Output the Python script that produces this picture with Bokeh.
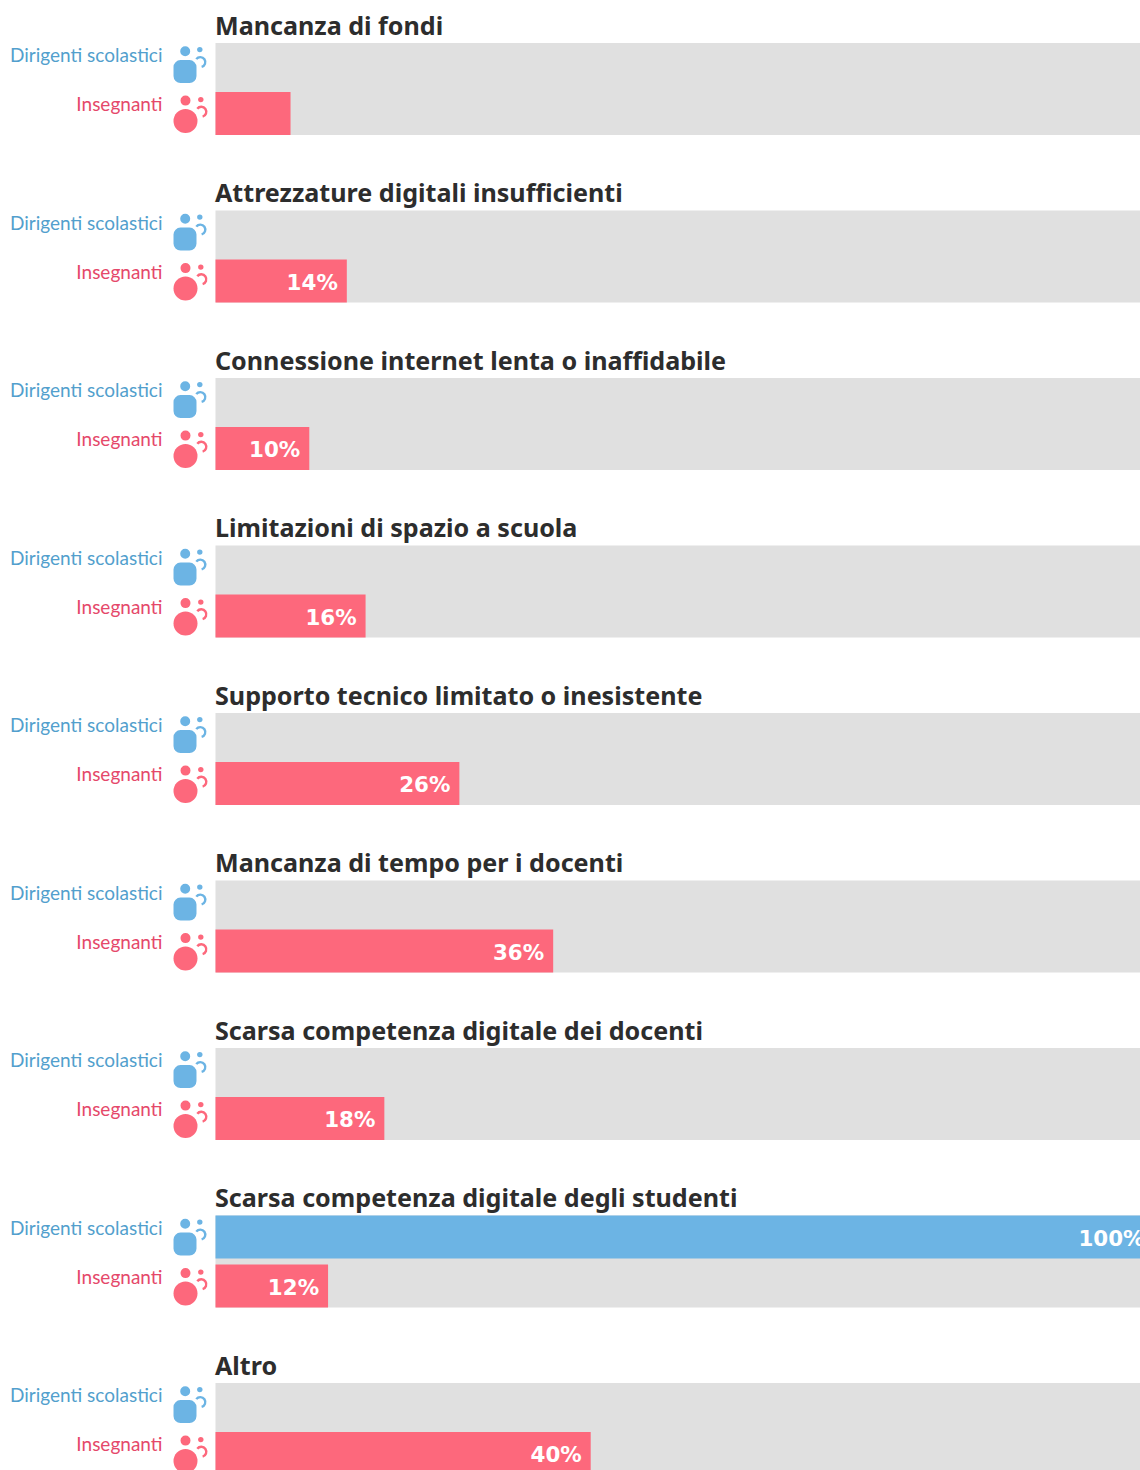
from bokeh.plotting import figure
from bokeh.models import Range1d
from bokeh.core.properties import value
from bokeh.embed import file_html
from bokeh.resources import INLINE

categories = ["Mancanza di fondi", "Attrezzature digitali insufficienti",
              "Connessione internet lenta o inaffidabile", "Limitazioni di spazio a scuola",
              "Supporto tecnico limitato o inesistente", "Mancanza di tempo per i docenti",
              "Scarsa competenza digitale dei docenti", "Scarsa competenza digitale degli studenti",
              "Altro"]
dirigenti = [0, 0, 0, 0, 0, 0, 0, 100, 0]
insegnanti = [8, 14, 10, 16, 26, 36, 18, 12, 40]
series_names = ["Dirigenti scolastici", "Insegnanti"]

W, H = 1140, 1470
S = 9.38      # px per percent
P = 167.5     # px per row
X0, Y0 = 215, 42.6
BAR = 43 / P
GAP = 49 / P
GREY, BLUE, RED = "#e0e0e0", "#6cb4e4", "#fd687c"
BLUE_T, RED_T, DARK = "#529fcd", "#e5486a", "#2d2d2d"
TITLE_FONT, LABEL_FONT, VALUE_FONT = "Noto Sans", "Lato", "DejaVu Sans"

p = figure(width=W, height=H, output_backend="svg", toolbar_location=None,
           x_range=Range1d(-X0 / S, (W - X0) / S),
           y_range=Range1d((H - Y0) / P, -Y0 / P),
           min_border=0, outline_line_color=None, margin=0)
p.axis.visible = False
p.grid.visible = False
p.extra_x_ranges["px"] = Range1d(0, W)
p.extra_y_ranges["px"] = Range1d(H, 0)

n = len(categories)
rows = list(range(n))
xmax = (W - X0) / S

p.quad(left=[0] * n, right=[xmax] * n, top=rows, bottom=[i + BAR + GAP for i in rows],
       color=GREY, line_color=None)
p.quad(left=[0] * n, right=dirigenti, top=rows, bottom=[i + BAR for i in rows],
       color=BLUE, line_color=None)
p.quad(left=[0] * n, right=insegnanti, top=[i + GAP for i in rows],
       bottom=[i + GAP + BAR for i in rows], color=RED, line_color=None)

px = dict(x_range_name="px", y_range_name="px")
ry = [Y0 + P * i for i in rows]

p.text(x=[X0 - 0.5] * n, y=[y - 18.6 for y in ry], text=categories, text_font=value(TITLE_FONT),
       text_font_style="bold", text_font_size="25.1px", text_color=DARK, text_baseline="alphabetic", **px)
p.text(x=[162] * n, y=[y + 11.5 for y in ry], text=[series_names[0]] * n, text_font=value(LABEL_FONT),
       text_font_size="19px", text_color=BLUE_T, text_align="right", text_baseline="alphabetic", **px)
p.text(x=[162] * n, y=[y + 60.6 for y in ry], text=[series_names[1]] * n, text_font=value(LABEL_FONT),
       text_font_size="19px", text_color=RED_T, text_align="right", text_baseline="alphabetic", **px)

# value labels (no label for the bar that is too short)
vx, vy, vt = [], [], []
for i in rows:
    if dirigenti[i] > 0:
        vx.append(dirigenti[i]); vy.append(i); vt.append(f"{dirigenti[i]}%")
    if insegnanti[i] > 8:
        vx.append(insegnanti[i]); vy.append(i + GAP); vt.append(f"{insegnanti[i]}%")
p.text(x=vx, y=[y + 22.5 / P for y in vy], text=vt, x_offset=-9, text_font=value(VALUE_FONT),
       text_font_style="bold", text_font_size="21.4px", text_color="#ffffff", text_align="right",
       text_baseline="alphabetic")

# icons
p.circle(x=[184.7] * n, y=[y + 8.2 for y in ry], radius=5, color=BLUE, line_color=None, **px)
p.circle(x=[199.3] * n, y=[y + 6.5 for y in ry], radius=2.7, color=BLUE, line_color=None, **px)
p.quad(left=[173] * n, right=[196] * n, top=[y + 17 for y in ry], bottom=[y + 40 for y in ry],
       color=BLUE, line_color=None, border_radius=7, **px)
p.arc(x=[199.8] * n, y=[y + 19 for y in ry], radius=5, start_angle=-1.3, end_angle=2.5,
      line_color=BLUE, line_width=2.4, direction="anticlock", **px)

p.circle(x=[185] * n, y=[y + 57.5 for y in ry], radius=5, color=RED, line_color=None, **px)
p.circle(x=[200.3] * n, y=[y + 56.5 for y in ry], radius=2.7, color=RED, line_color=None, **px)
p.circle(x=[185] * n, y=[y + 78 for y in ry], radius=12, color=RED, line_color=None, **px)
p.arc(x=[200.8] * n, y=[y + 68.7 for y in ry], radius=5, start_angle=-1.3, end_angle=2.5,
      line_color=RED, line_width=2.4, direction="anticlock", **px)

open("out.html", "w").write(file_html(p, INLINE))
